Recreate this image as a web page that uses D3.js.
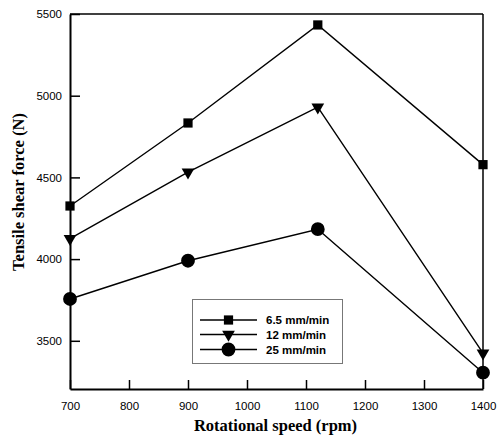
<!DOCTYPE html>
<html>
<head>
<meta charset="utf-8">
<script src="https://d3js.org/d3.v7.min.js"></script>
<style>
  body { margin: 0; background: #fff; }
  .tick text { font-family: Arial, "Liberation Sans", sans-serif; font-size: 11.5px; fill: #000; }
  .title { font-family: "Times New Roman", "Liberation Serif", serif; font-weight: bold; font-size: 16.5px; fill: #000; }
  .legend text { font-family: Arial, "Liberation Sans", sans-serif; font-weight: bold; font-size: 11.5px; fill: #000; }
</style>
</head>
<body>
<svg id="chart" width="499" height="439"></svg>
<script>
// chart values
const speeds = [700, 900, 1120, 1400];
const feed65 = [4325, 4833, 5433, 4578];
const feed12 = [4125, 4532, 4930, 3425];
const feed25 = [3756, 3990, 4183, 3305];
const seriesNames = ['6.5 mm/min', '12 mm/min', '25 mm/min'];
const xTicks = [700, 800, 900, 1000, 1100, 1200, 1300, 1400];
const yTicks = [3500, 4000, 4500, 5000, 5500];

const margin = {top: 14, right: 16, bottom: 50, left: 70},
  width = 499 - margin.left - margin.right,
  height = 439 - margin.top - margin.bottom;

const svg = d3.select('#chart')
  .append('g')
  .attr('transform', `translate(${margin.left},${margin.top})`);

const x = d3.scaleLinear().domain([700, 1400]).range([0, width]);
const y = d3.scaleLinear().domain([3205, 5500]).range([height, 0]);

// frame: top and right thinner
svg.append('line').attr('x1', 0).attr('x2', width).attr('y1', 0).attr('y2', 0)
  .attr('stroke', '#000').attr('stroke-width', 1.5);
svg.append('line').attr('x1', width).attr('x2', width).attr('y1', 0).attr('y2', height)
  .attr('stroke', '#000').attr('stroke-width', 1.5);

const xAxis = svg.append('g')
  .attr('transform', `translate(0,${height})`)
  .call(d3.axisBottom(x).tickValues(xTicks).tickFormat(d3.format('d'))
    .tickSizeInner(-9).tickSizeOuter(0).tickPadding(13));
const yAxis = svg.append('g')
  .call(d3.axisLeft(y).tickValues(yTicks).tickFormat(d3.format('d'))
    .tickSizeInner(-10).tickSizeOuter(0).tickPadding(8));

[xAxis, yAxis].forEach(a => {
  a.select('.domain').attr('stroke', '#000').attr('stroke-width', 2);
  a.selectAll('.tick line').attr('stroke', '#000').attr('stroke-width', 1.5);
});

const line = d3.line().x((d, i) => x(speeds[i])).y(d => y(d));

const symbols = [d3.symbolSquare, d3.symbolTriangle, d3.symbolCircle];
const symSizes = [85, 70, 150];
const rotations = [0, 180, 0];

function marker(g, k, px, py) {
  g.append('path')
    .attr('d', d3.symbol().type(symbols[k]).size(symSizes[k])())
    .attr('transform', `translate(${px},${py}) rotate(${rotations[k]})`)
    .attr('fill', '#000');
}

[feed65, feed12, feed25].forEach((vals, k) => {
  svg.append('path').datum(vals)
    .attr('d', line)
    .attr('fill', 'none')
    .attr('stroke', '#000')
    .attr('stroke-width', 1.4);
  vals.forEach((v, i) => marker(svg, k, x(speeds[i]), y(v)));
});

// legend
const leg = svg.append('g').attr('class', 'legend');
leg.append('rect')
  .attr('x', 192.5 - margin.left).attr('y', 299.5 - margin.top)
  .attr('width', 150).attr('height', 64)
  .attr('fill', '#fff').attr('stroke', '#777').attr('stroke-width', 1);
const rowY = [320, 334.5, 349.5];
seriesNames.forEach((name, k) => {
  const ry = rowY[k] - margin.top;
  leg.append('line')
    .attr('x1', 200 - margin.left).attr('x2', 257 - margin.left)
    .attr('y1', ry).attr('y2', ry)
    .attr('stroke', '#000').attr('stroke-width', 1.4);
  marker(leg, k, 228.5 - margin.left, ry);
  leg.append('text')
    .attr('x', 266 - margin.left).attr('y', ry + 4)
    .text(name);
});

// axis titles
svg.append('text').attr('class', 'title')
  .attr('x', width / 2 - 1).attr('y', height + 42)
  .attr('text-anchor', 'middle')
  .text('Rotational speed (rpm)');
svg.append('text').attr('class', 'title')
  .attr('transform', `translate(${-46},${192 - margin.top}) rotate(-90)`)
  .attr('text-anchor', 'middle')
  .text('Tensile shear force (N)');
</script>
</body>
</html>
